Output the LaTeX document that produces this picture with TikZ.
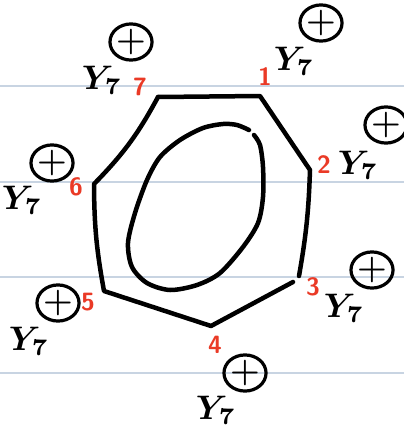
\documentclass[tikz,border=0pt]{standalone}
\usepackage{xcolor}
\usepackage{tikz}
\usetikzlibrary{shapes.geometric,calc}

\definecolor{ruleblue}{RGB}{200,212,226}
\definecolor{numred}{RGB}{234,58,38}

\begin{document}
\begin{tikzpicture}[
    x=1pt, y=-1pt,
    ruling/.style={ruleblue, line width=1.4pt},
    edge/.style={line width=4.5pt, line cap=round, line join=round},
    num/.style={text=numred, font=\fontsize{25}{25}\selectfont\sffamily\bfseries, inner sep=0pt},
    ylab/.style={scale=3.4, inner sep=0pt, font=\boldmath},
    plus/.style={ellipse, draw, line width=3.2pt, minimum width=34pt, minimum height=28pt, inner sep=0pt, font=\fontsize{34}{34}\selectfont\bfseries}
]
    \useasboundingbox (0,0) rectangle (404,429);
    % ruled paper
    \foreach \yy in {86,182,277,373}
        \draw[ruling] (0,\yy) -- (404,\yy);

    % corners of the heptagon
    \coordinate (v1) at (260,96);
    \coordinate (v2) at (310,170);
    \coordinate (v3) at (299,276);
    \coordinate (v4) at (211,326);
    \coordinate (v5) at (104,291);
    \coordinate (v6) at (94,184);
    \coordinate (v7) at (158,97);

    \draw[edge] (v7) -- (v1) -- (v2) to[bend left=4] (v3);
    \draw[edge] ($(v3)+(-6,6)$) -- (v4) -- (v5) to[bend left=5] (v6) to[bend right=8] (v7);

    % inner ring
    \draw[edge] plot[smooth] coordinates {(254,135) (260,145) (263,167) (263,197) (258,223) (243,247) (220,273) (197,285) (170,290) (147,283) (132,267) (128,243) (135,213) (147,180) (160,157) (180,140) (203,128) (223,124) (237,125) (249,130)};

    % corner numbers
    \node[num] (n1) at (265,77) {1};
    \node[num] (n2) at (324,165) {2};
    \node[num] (n3) at (313,287) {3};
    \node[num] (n4) at (215,345) {4};
    \node[num] (n5) at (88,302) {5};
    \node[num] (n6) at (76,187) {6};
    \node[num] (n7) at (140,87) {7};

    % labels
    \node[ylab] (y1) at (294,61) {$Y_7$};  \node[plus] (p1) at (321,23) {+};
    \node[ylab] (y2) at (358,165) {$Y_7$}; \node[plus] (p2) at (386,125) {+};
    \node[ylab] (y3) at (344,308) {$Y_7$}; \node[plus] (p3) at (372,270) {+};
    \node[ylab] (y4) at (216,410) {$Y_7$}; \node[plus] (p4) at (245,373) {+};
    \node[ylab] (y5) at (29,341) {$Y_7$};  \node[plus] (p5) at (58,303) {+};
    \node[ylab] (y6) at (22,200) {$Y_7$};  \node[plus] (p6) at (52,163) {+};
    \node[ylab] (y7) at (102,80) {$Y_7$};  \node[plus] (p7) at (131,42) {+};
\end{tikzpicture}
\end{document}
